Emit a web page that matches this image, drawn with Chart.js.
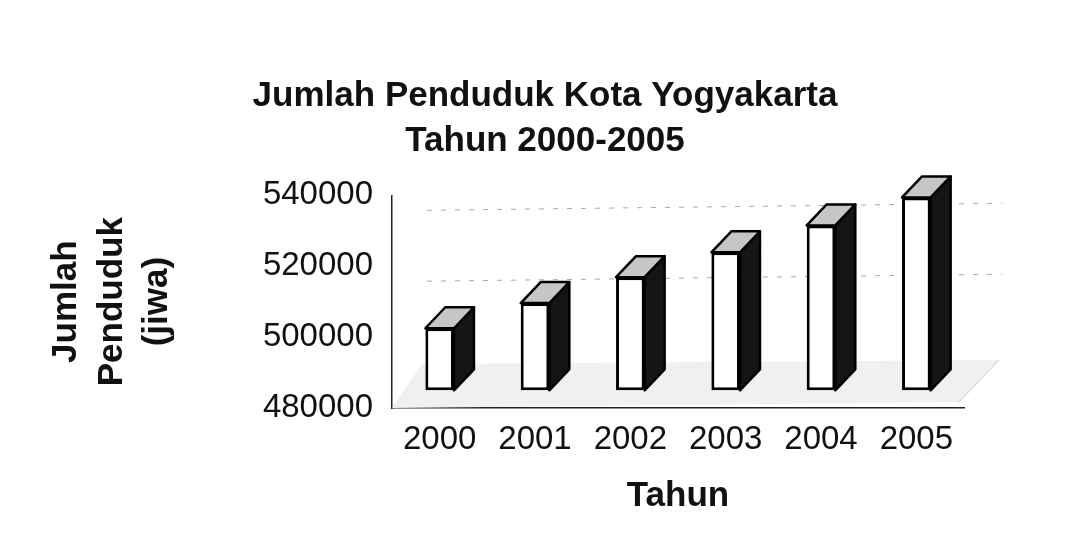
<!DOCTYPE html>
<html>
<head>
<meta charset="utf-8">
<script src="https://cdn.jsdelivr.net/npm/chart.js@4.4.0/dist/chart.umd.min.js"></script>
<style>
  body { margin: 0; background: #fff; }
  #wrap { width: 1070px; height: 542px; }
</style>
</head>
<body>
<div id="wrap"><canvas id="penduduk" width="1070" height="542"></canvas></div>
<script>
// data
const tahun = ['2000', '2001', '2002', '2003', '2004', '2005'];
const jumlahPenduduk = [502500, 509600, 516900, 523900, 531500, 539400];
const yTicks = [480000, 500000, 520000, 540000];

const FONT = '"Liberation Sans", Arial, sans-serif';

// floor + faint dashed lines on the back wall (fake 3d)
const backWall = {
    id: 'backWall',
    beforeDatasetsDraw(chart) {
        const ctx = chart.ctx;
        const {left, right, bottom} = chart.chartArea;
        const y = chart.scales.y;
        ctx.save();
        ctx.strokeStyle = '#a8a8a8';
        ctx.lineWidth = 1;
        ctx.setLineDash([5, 9]);
        // only the upper lines show above the floor in the scan
        yTicks.slice(2).forEach(v => {
            const yy = y.getPixelForValue(v) + 12;
            ctx.beginPath();
            ctx.moveTo(left + 35, yy + 3);
            ctx.lineTo(right + 38, yy - 4);
            ctx.stroke();
        });
        ctx.setLineDash([]);
        ctx.fillStyle = '#f0f0f0';
        ctx.beginPath();
        ctx.moveTo(left, bottom);
        ctx.lineTo(right - 5, bottom - 6);
        ctx.lineTo(right + 35, bottom - 48);
        ctx.lineTo(left + 30, bottom - 44);
        ctx.closePath();
        ctx.fill();
        ctx.strokeStyle = '#c8c8c8';
        ctx.beginPath();
        ctx.moveTo(right - 5, bottom - 6);
        ctx.lineTo(right + 35, bottom - 48);
        ctx.stroke();
        ctx.restore();
    }
};

// side and top faces of each column
const bar3d = {
    id: 'bar3d',
    afterDatasetsDraw(chart) {
        const ctx = chart.ctx;
        const dx = 20, dy = -21;
        chart.getDatasetMeta(0).data.forEach(bar => {
            const {x, y, base, width} = bar.getProps(['x', 'y', 'base', 'width'], true);
            const l = x - width / 2, r = x + width / 2;
            ctx.save();
            ctx.lineJoin = 'round';
            ctx.lineWidth = 2.5;
            ctx.strokeStyle = '#000';
            ctx.beginPath();
            ctx.moveTo(r, y);
            ctx.lineTo(r + dx, y + dy);
            ctx.lineTo(r + dx, base + dy);
            ctx.lineTo(r, base);
            ctx.closePath();
            ctx.fillStyle = '#151515';
            ctx.fill();
            ctx.stroke();
            ctx.beginPath();
            ctx.moveTo(l, y);
            ctx.lineTo(l + dx, y + dy);
            ctx.lineTo(r + dx, y + dy);
            ctx.lineTo(r, y);
            ctx.closePath();
            ctx.fillStyle = '#c6c6c6';
            ctx.fill();
            ctx.stroke();
            ctx.restore();
        });
    }
};

const ctx = document.getElementById('penduduk').getContext('2d');
const chart = new Chart(ctx, {
    type: 'bar',
    data: {
        labels: tahun,
        datasets: [{
            label: 'Jumlah Penduduk',
            data: jumlahPenduduk,
            base: 485000,
            backgroundColor: '#ffffff',
            borderColor: '#000000',
            borderWidth: 3,
            borderSkipped: false,
            barPercentage: 0.3,
            categoryPercentage: 1.0
        }]
    },
    options: {
        responsive: false,
        animation: false,
        layout: {
            padding: { left: 44, right: 24, top: 0, bottom: 25 }
        },
        plugins: {
            legend: { display: false },
            tooltip: { enabled: false },
            title: {
                display: true,
                text: ['Jumlah Penduduk Kota Yogyakarta', 'Tahun 2000-2005'],
                color: '#111',
                font: { family: FONT, size: 35, weight: 'bold', lineHeight: 1.29 },
                padding: { top: 74, bottom: 31 }
            }
        },
        scales: {
            x: {
                grid: { display: false, drawTicks: false },
                border: { display: true, color: '#222', width: 1.5 },
                ticks: {
                    color: '#111',
                    font: { family: FONT, size: 33, lineHeight: 1.2 },
                    padding: 12,
                    maxRotation: 0
                },
                title: {
                    display: true,
                    text: 'Tahun',
                    color: '#111',
                    font: { family: FONT, size: 35, weight: 'bold', lineHeight: 1.2 },
                    padding: { top: 15, bottom: 0 }
                },
                afterFit: s => { s.height = 109; }
            },
            y: {
                min: 480000,
                max: 540000,
                grid: { display: false, drawTicks: false },
                border: { display: true, color: '#222', width: 1.5 },
                ticks: {
                    stepSize: 20000,
                    color: '#111',
                    padding: 19,
                    font: { family: FONT, size: 33 },
                    callback: v => String(v)
                },
                title: {
                    display: true,
                    text: ['Jumlah', 'Penduduk', '(jiwa)'],
                    color: '#111',
                    font: { family: FONT, size: 35, weight: 'bold', lineHeight: 1.3 },
                    padding: { top: 0, bottom: 0 }
                },
                afterFit: s => { s.width = 348; }
            },
            yR: {
                position: 'right',
                display: true,
                grid: { display: false, drawTicks: false },
                border: { display: false },
                ticks: { display: false },
                afterFit: s => { s.width = 82; }
            }
        }
    },
    plugins: [backWall, bar3d]
});
</script>
</body>
</html>
